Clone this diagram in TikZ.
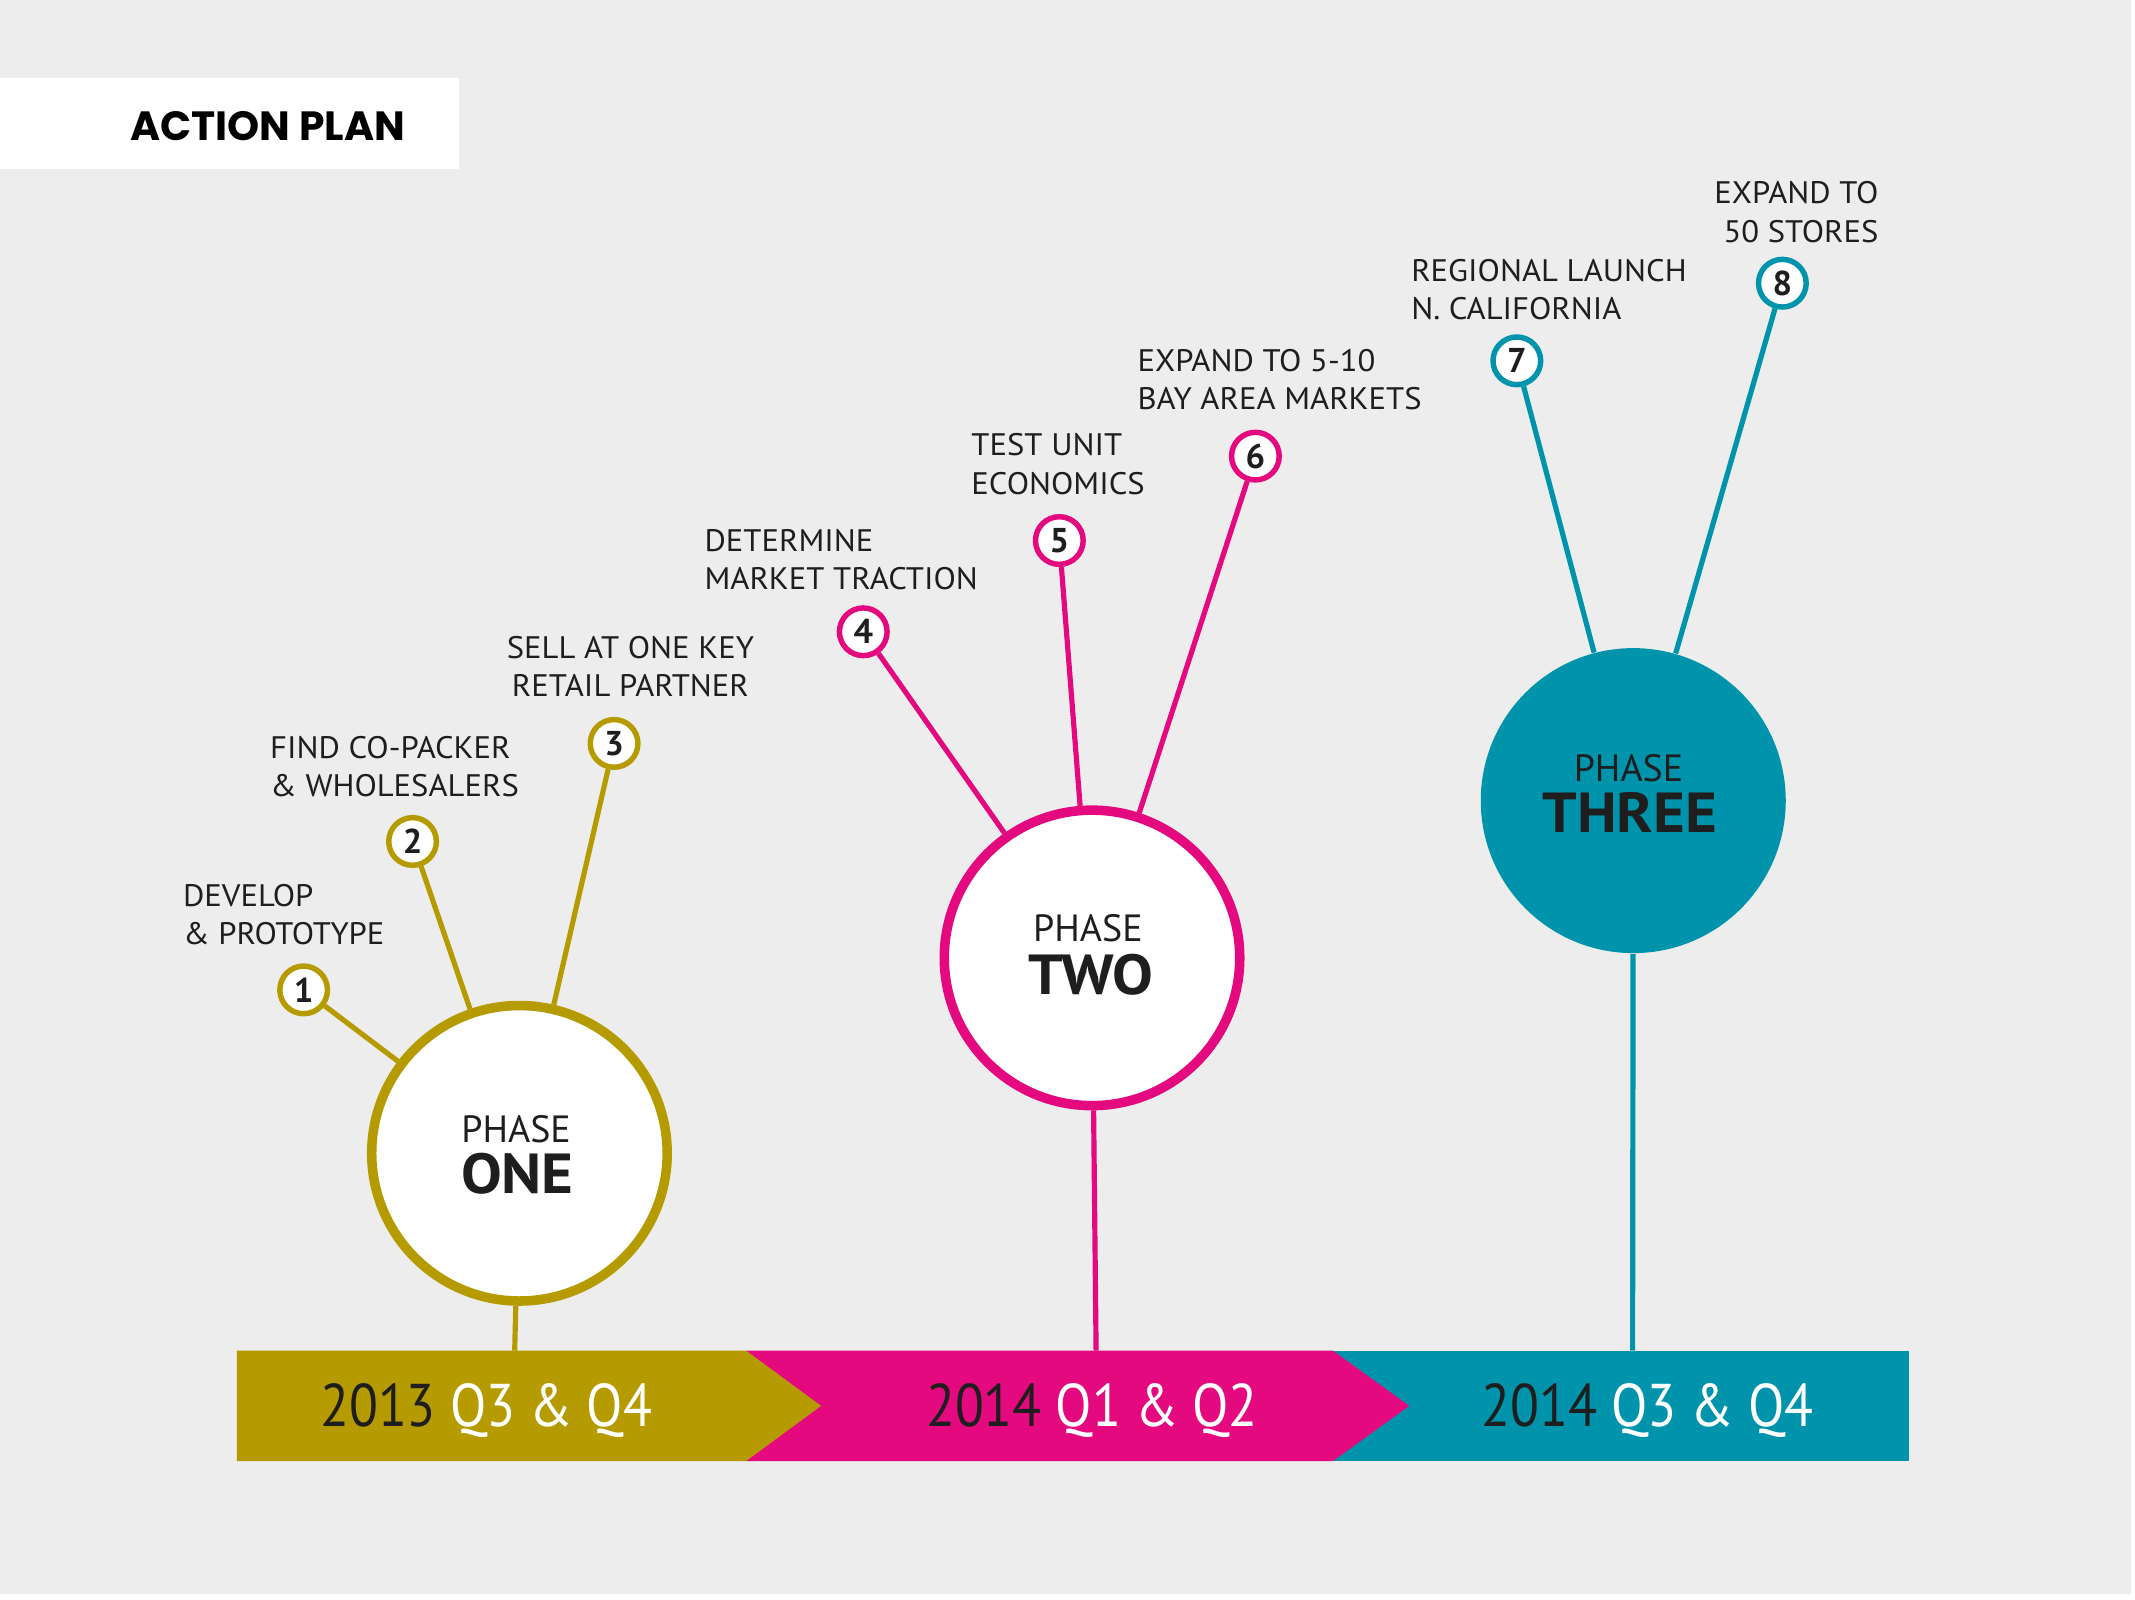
\documentclass[tikz,border=0pt]{standalone}
\usepackage{fontspec}
\setmainfont{PT Sans}
\newfontfamily\barfamily{PT Sans}[FakeStretch=0.88]
\newfontfamily\lblfamily{PT Sans}[FakeStretch=1.05]
\newfontfamily\phbfamily{PT Sans}[FakeStretch=1.08]
\newfontfamily\titlefamily{Poppins}
\definecolor{bgc}{RGB}{237,237,237}
\definecolor{gold}{RGB}{182,155,0}
\definecolor{mag}{RGB}{228,9,127}
\definecolor{teal}{RGB}{0,148,172}
\definecolor{ink}{RGB}{30,30,30}
\newcommand\lblfont{\lblfamily\fontsize{9.75}{12}\selectfont}
\newcommand\numfont{\fontsize{10.8}{11}\selectfont\bfseries}
\newcommand\phfont{\fontsize{11.9}{13}\selectfont}
\newcommand\phbfont{\phbfamily\fontsize{17.7}{19}\selectfont\bfseries}
\newcommand\barfont{\barfamily\fontsize{18.9}{20}\selectfont}
\tikzset{
  num/.style={circle, draw=#1, fill=white, line width=0.06cm, minimum size=0.525cm, inner sep=0pt, font=\numfont, text=ink},
  ring/.style={circle, draw=#1, fill=white, line width=0.105cm, minimum size=3.255cm, inner sep=0pt},
  conn/.style={draw=#1, line width=0.057cm},
  lbl/.style={inner sep=0pt, font=\lblfont, text=ink, anchor=north west, align=left},
  ph/.style={inner sep=0pt, font=\phfont, text=ink},
  phb/.style={inner sep=0pt, font=\phbfont, text=ink},
  bartxt/.style={inner sep=0pt, font=\barfont, text=ink, anchor=base},
}
\begin{document}
\begin{tikzpicture}[x=0.015cm,y=-0.015cm]
\useasboundingbox (0,0) rectangle (1568,1175);
\fill[white] (0,0) rectangle (1568,1175);
\fill[bgc] (0,0) rectangle (1565,1171);

% header
\node[fill=white, minimum width=5.055cm, minimum height=1.005cm, inner sep=0pt] (hdr) at (168.5,90.5) {};
\node[inner sep=0pt, text=black, font=\titlefamily\bfseries\fontsize{12.8}{14}\selectfont] (title) at (196.5,92.5) {ACTION PLAN};

% timeline bar
\fill[teal] (979,992) rectangle (1402,1073);
\fill[mag] (548,992) -- (979,992) -- (1035,1032.5) -- (979,1073) -- (548,1073) -- cycle;
\fill[gold] (174,992) -- (548,992) -- (603,1032.5) -- (548,1073) -- (174,1073) -- cycle;
\node[bartxt] (t1) at (357,1047.5) {2013 \textcolor{white}{Q3 \& Q4}};
\node[bartxt] (t2) at (802,1047.5) {2014 \textcolor{white}{Q1 \& Q2}};
\node[bartxt] (t3) at (1210,1047.5) {2014 \textcolor{white}{Q3 \& Q4}};
\coordinate (b1) at (378,992);
\coordinate (b2) at (805,992);
\coordinate (b3) at (1199,992);

% phase circles
\node[ring=gold] (one) at (381.5,847) {};
\node[ring=mag] (two) at (802,703.5) {};
\node[circle, fill=teal, minimum size=3.36cm, inner sep=0pt] (three) at (1199.5,588) {};

% small numbered circles
\node[num=gold] (n1) at (223,727) {1};
\node[num=gold] (n2) at (303,618) {2};
\node[num=gold] (n3) at (451,546) {3};
\node[num=mag] (n4) at (634,464) {4};
\node[num=mag] (n5) at (778,397) {5};
\node[num=mag] (n6) at (922,335) {6};
\node[num=teal] (n7) at (1114,265) {7};
\node[num=teal] (n8) at (1309,208) {8};

% connectors
\draw[conn=gold] (n1) -- (one);
\draw[conn=gold] (n2) -- (one);
\draw[conn=gold] (n3) -- (one);
\draw[conn=gold] (one) -- (b1);
\draw[conn=mag] (n4) -- (two);
\draw[conn=mag] (n5) -- (two);
\draw[conn=mag] (n6) -- (two);
\draw[conn=mag] (two) -- (b2);
\draw[conn=teal] (n7) -- (three);
\draw[conn=teal] (n8) -- (three);
\draw[conn=teal] (three) -- (b3);

% phase texts
\node[ph] (p1) at (379,829.5) {PHASE};
\node[phb] (q1) at (380,862) {ONE};
\node[ph] (p2) at (799,682) {PHASE};
\node[phb] (q2) at (801,716) {TWO};
\node[ph] (p3) at (1196,564) {PHASE};
\node[phb] (q3) at (1197,597) {THREE};

% labels
\node[lbl] (l1) at (134,649) {DEVELOP\\\& PROTOTYPE};
\node[lbl] (l2) at (198,540) {FIND CO-PACKER\\\& WHOLESALERS};
\node[lbl, anchor=north, align=center] (l3) at (463,467) {SELL AT ONE KEY\\RETAIL PARTNER};
\node[lbl] (l4) at (517,388) {DETERMINE\\MARKET TRACTION};
\node[lbl] (l5) at (713,318) {TEST UNIT\\ECONOMICS};
\node[lbl] (l6) at (835,256) {EXPAND TO 5-10\\BAY AREA MARKETS};
\node[lbl] (l7) at (1036,190) {REGIONAL LAUNCH\\N. CALIFORNIA};
\node[lbl, anchor=north east, align=right] (l8) at (1380,133) {EXPAND TO\\50 STORES};
\end{tikzpicture}
\end{document}
